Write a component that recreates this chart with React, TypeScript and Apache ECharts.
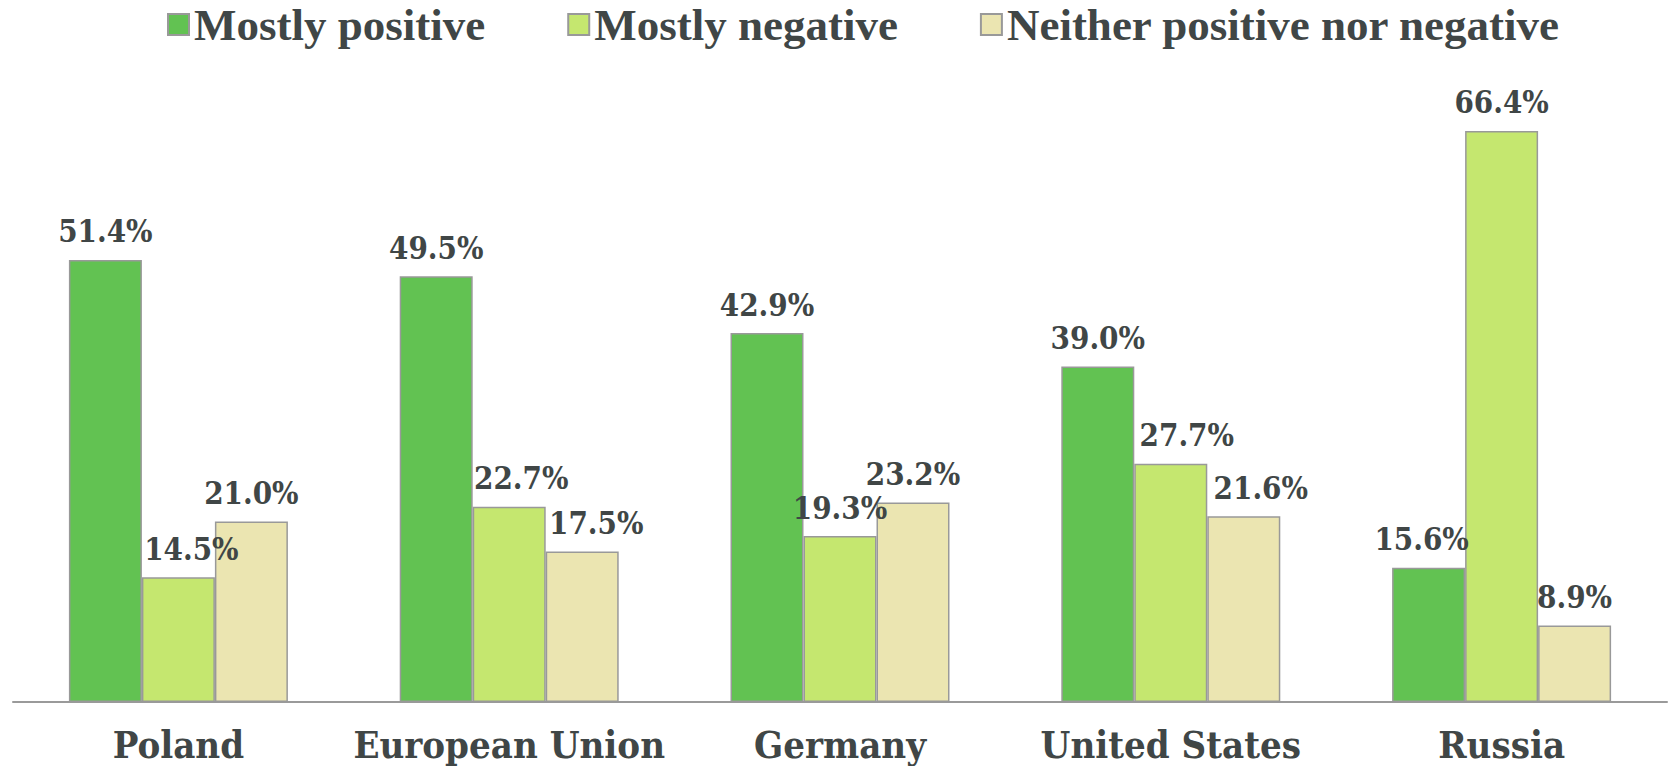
import React, { useEffect, useRef } from "react";
import * as echarts from "echarts";

const categories = ["Poland", "European Union", "Germany", "United States", "Russia"];
const seriesNames = ["Mostly positive", "Mostly negative", "Neither positive nor negative"];
const mostlyPositive = [51.4, 49.5, 42.9, 39.0, 15.6];
const mostlyNegative = [14.5, 22.7, 19.3, 27.7, 66.4];
const neither = [21.0, 17.5, 23.2, 21.6, 8.9];

const colors = ["#62c252", "#c5e76f", "#ebe5b1"];
const textColor = "#404646";
const labelFont = "'DejaVu Serif Condensed', 'DejaVu Serif', serif";
const legendFont = "'Liberation Serif', 'Times New Roman', serif";

// horizontal nudges of value labels (px), per series then category
const labelNudge = [
  [0, 0, 0, 0, -7],
  [13, 12, 0, 16, 0],
  [0, 14, 0, 17, 0],
];

export default function App() {
  const ref = useRef<HTMLDivElement>(null);
  useEffect(() => {
    document.body.style.margin = "0";
    if (!ref.current) return;
    const chart = echarts.init(ref.current, undefined, { renderer: "svg" });
    const allData = [mostlyPositive, mostlyNegative, neither];
    chart.setOption({
      animation: false,
      backgroundColor: "#ffffff",
      legend: {
        data: seriesNames,
        top: 2,
        left: 167,
        padding: 0,
        itemWidth: 21,
        itemHeight: 21,
        itemGap: 82,
        icon: "rect",
        textStyle: {
          fontFamily: legendFont,
          fontWeight: "bold",
          fontSize: 45,
          color: textColor,
        },
      },
      grid: { left: 13, right: 2, top: 100, bottom: 64, containLabel: false },
      xAxis: {
        type: "category",
        data: categories,
        axisLine: { show: true, lineStyle: { color: "#9a9a9a", width: 2 } },
        axisTick: { show: false },
        axisLabel: {
          margin: 22,
          interval: 0,
          fontFamily: labelFont,
          fontWeight: "bold",
          fontSize: 38,
          lineHeight: 40,
          color: textColor,
        },
      },
      yAxis: {
        type: "value",
        min: 0,
        max: 70,
        show: false,
        splitLine: { show: false },
      },
      series: seriesNames.map((name, si) => ({
        name,
        type: "bar",
        barWidth: 73,
        barGap: "0%",
        itemStyle: { color: colors[si], borderColor: "#999999", borderWidth: 1.5 },
        label: {
          show: true,
          position: "top",
          distance: 13,
          fontFamily: labelFont,
          fontWeight: "bold",
          fontSize: 31,
          color: textColor,
          formatter: (p: any) => p.value.toFixed(1) + "%",
        },
        data: allData[si].map((v, ci) => ({
          value: v,
          label: { offset: [labelNudge[si][ci], 0] },
        })),
      })),
    });
    return () => chart.dispose();
  }, []);
  return <div ref={ref} style={{ width: 1669, height: 766 }} />;
}
